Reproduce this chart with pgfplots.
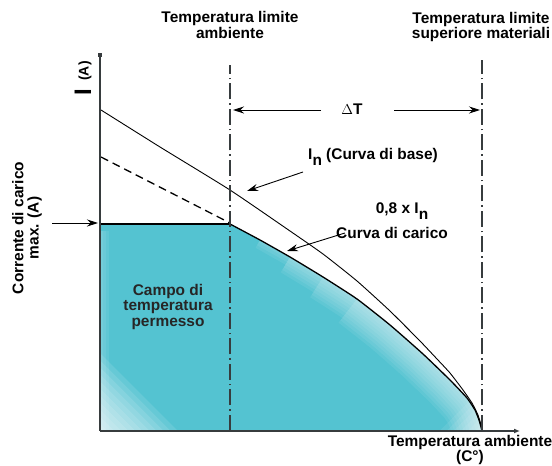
\documentclass[border=0pt]{standalone}
\usepackage{pgfplots}
\pgfplotsset{compat=1.18}
\usepackage{pgfplotstable}
\usepgfplotslibrary{fillbetween}
\usepackage{fontspec}
\setmainfont{Liberation Sans}
\usetikzlibrary{arrows.meta}

\definecolor{tealc}{RGB}{84,195,209}
\definecolor{axisgray}{RGB}{55,60,62}

\newcommand{\lab}{\bfseries\fontsize{15.5}{15.5}\selectfont}

\pgfplotstableread{
x y
130 207
160 191
190 174
223 154
257 132
290 106
323 77
350 51
367 33
375 21
379 11
381 4
382 0
}\loadcurve

\begin{document}
\begin{tikzpicture}
\begin{axis}[
    hide axis,
    scale only axis,
    width=552bp, height=466bp,
    xmin=-100, xmax=452,
    ymin=-35, ymax=431,
    clip=false,
    glow/.style={white, opacity=0.07, line join=round, line cap=butt},
]
% allowed temperature field
\addplot [draw=none, name path=top] coordinates {
    (0,207) (130,207) (160,191) (190,174) (223,154) (257,132) (290,106)
    (323,77) (350,51) (367,33) (375,21) (379,11) (381,4) (382,0)
};
\addplot [draw=none, name path=bot] coordinates {(0,0) (382,0)};
\addplot [fill=tealc, draw=none] fill between [of=top and bot];

% soft light edges of the field
\pgfplotsinvokeforeach{6,12,18}{
  \addplot [glow, line width=#1bp, smooth, tension=0.3] coordinates {
      (160,191) (190,174) (223,154) (257,132) (290,106) (323,77) (350,51)
      (367,33) (375,21) (379,11) (381,4) (382,0) (382,-30)};
}
\pgfplotsinvokeforeach{24,30,36}{
  \addplot [glow, line width=#1bp, smooth, tension=0.3] coordinates {
      (190,174) (223,154) (257,132) (290,106) (323,77) (350,51)
      (367,33) (375,21) (379,11) (381,4) (382,0) (382,-30)};
}
\pgfplotsinvokeforeach{42,48}{
  \addplot [glow, line width=#1bp, smooth, tension=0.3] coordinates {
      (223,154) (257,132) (290,106) (323,77) (350,51)
      (367,33) (375,21) (379,11) (381,4) (382,0) (382,-30)};
}
\pgfplotsinvokeforeach{54,60}{
  \addplot [glow, line width=#1bp, smooth, tension=0.3] coordinates {
      (257,132) (290,106) (323,77) (350,51)
      (367,33) (375,21) (379,11) (381,4) (382,0) (382,-30)};
}
\pgfplotsinvokeforeach{10,20,30,40,50,60,70,80,90,100,110}{
  \addplot [white, opacity=0.11, line width=#1bp] coordinates {(-70,70) (70,-70)};
}
\pgfplotsinvokeforeach{10,20,30,40,50,60}{
  \addplot [white, opacity=0.08, line width=#1bp] coordinates {(342,-40) (422,40)};
}
\pgfplotsinvokeforeach{6,12,18}{
  \addplot [glow, line width=#1bp] coordinates {(0,200) (0,0)};
}

% base curve I_n
\addplot [black, line width=0.9bp, smooth, tension=0.3] coordinates {
    (1,321) (60,284) (130,241) (190,200) (223,177) (257,150) (290,120)
    (320,90) (337,72) (350,58) (363,41) (372,28) (378,16) (381,6) (382,0)
};
% 0.8 x I_n, dashed part
\addplot [black, line width=1.3bp, dash pattern=on 8bp off 5bp] coordinates {
    (1,274) (130,208)
};
% load curve
\addplot [black, line width=1.3bp, smooth, tension=0.3] table [x=x, y=y] {\loadcurve};
% max load current
\addplot [black, line width=1.4bp] coordinates {(0,207) (130,207)};

% axes
\draw [axisgray, line width=1.6bp, -{Latex[length=6bp,width=5bp]}] (axis cs:0,0) -- (axis cs:420,0);
\draw [axisgray, line width=1.6bp, -{Rectangle[length=4bp,width=4bp]}] (axis cs:0,0) -- (axis cs:0,378);

% limit temperature lines
\draw [axisgray, line width=1.5bp, dash pattern=on 16bp off 4bp on 1.5bp off 4bp]
    (axis cs:130,0) -- (axis cs:130,366);
\draw [axisgray, line width=1.5bp, dash pattern=on 16bp off 4bp on 1.5bp off 4bp]
    (axis cs:382,0) -- (axis cs:382,371);

% Delta T
\draw [black, line width=0.9bp, -{Stealth[length=11bp,width=7bp]}] (axis cs:221,321) -- (axis cs:133,321);
\draw [black, line width=0.9bp, -{Stealth[length=11bp,width=7bp]}] (axis cs:294,321) -- (axis cs:380,321);
\node [font=\lab] at (axis cs:252,322) {$\Delta$T};

% labels
\node [font=\lab, align=center] at (axis cs:130,406) {Temperatura limite\\ambiente};
\node [font=\lab, align=center] at (axis cs:381,404) {Temperatura limite\\superiore materiali};
\node [font=\lab, align=center] at (axis cs:370,-19) {Temperatura ambiente\\(C°)};
\node [font=\lab, align=center, text=black!85] at (axis cs:68,124) {Campo di\\temperatura\\permesso};
\node [font=\lab, align=center, rotate=90] at (axis cs:-73,203) {Corrente di carico\\max. (A)};
\node [font={\bfseries\fontsize{24}{24}\selectfont}, rotate=90] at (axis cs:-17,339) {I};
\node [font={\bfseries\fontsize{14}{14}\selectfont}, rotate=90] at (axis cs:-15,360) {(A)};

\draw [black, line width=0.9bp, -{Stealth[length=11bp,width=7bp]}] (axis cs:-48,208) -- (axis cs:-2,208);

\node [font=\lab] at (axis cs:273,274) {I\raisebox{-0.35em}{n} (Curva di base)};
\draw [black, line width=0.9bp, -{Stealth[length=11bp,width=7bp]}] (axis cs:203,259) -- (axis cs:147,240);

\node [font=\lab] at (axis cs:302,220) {0,8 x I\raisebox{-0.35em}{n}};
\node [font=\lab] at (axis cs:292,198) {Curva di carico};
\draw [black, line width=0.9bp, -{Stealth[length=11bp,width=7bp]}] (axis cs:245,198) -- (axis cs:187,180);

\coordinate (BL) at (rel axis cs:0,0);
\coordinate (TR) at (rel axis cs:1,1);
\end{axis}
\pgfresetboundingbox
\useasboundingbox (BL) rectangle (TR);
\end{tikzpicture}
\end{document}
